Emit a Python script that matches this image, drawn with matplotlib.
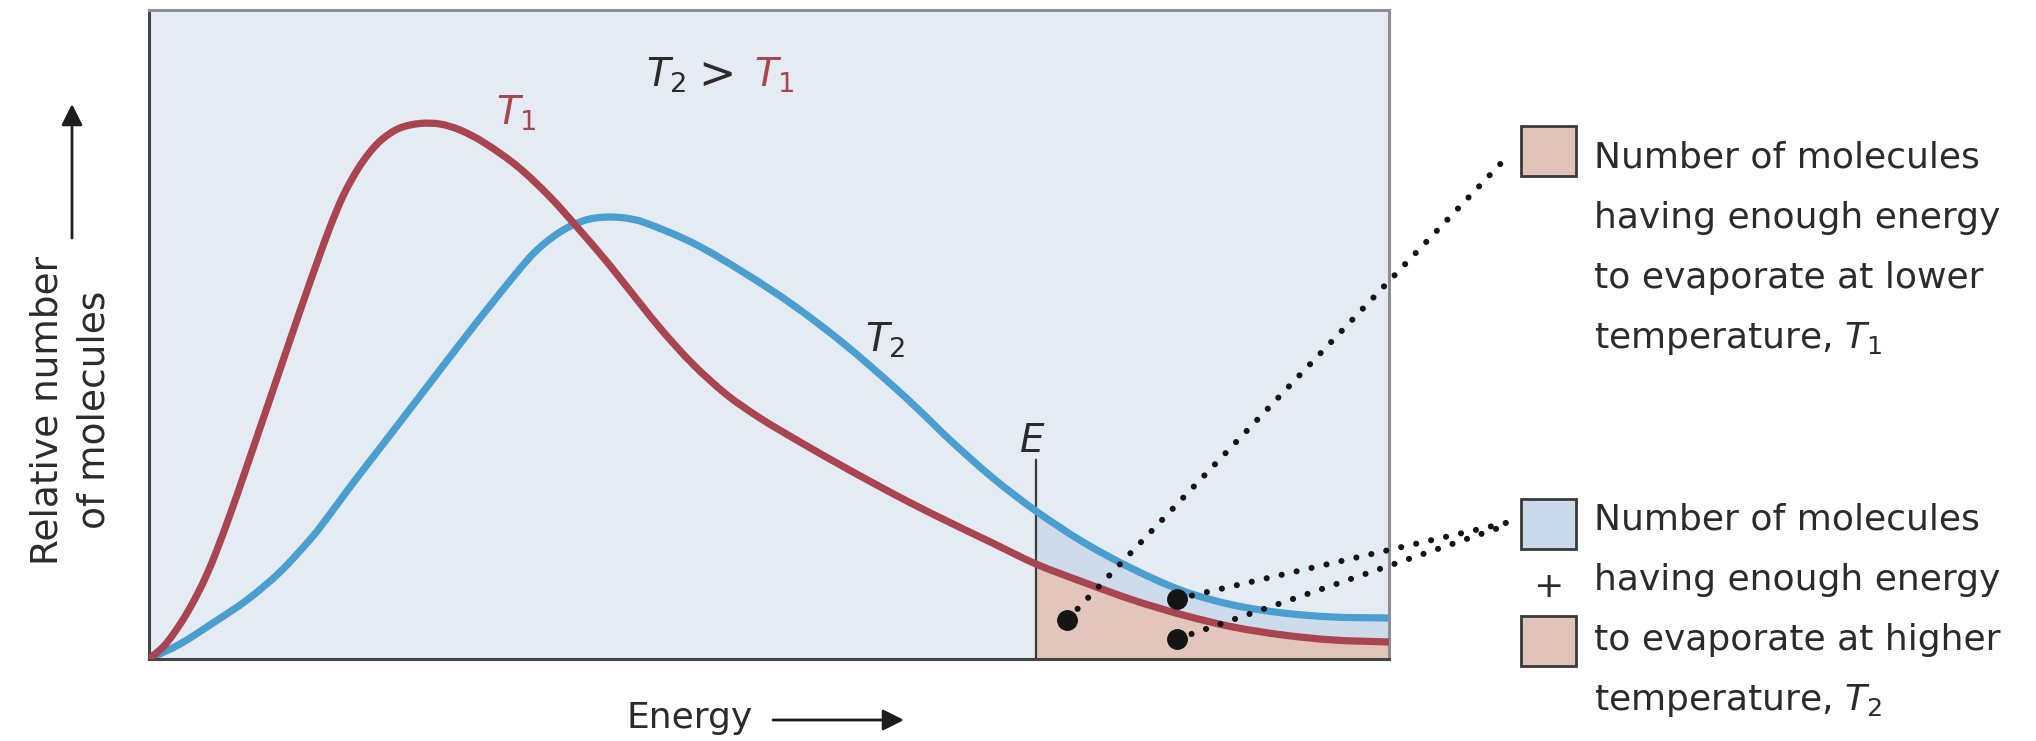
import matplotlib
matplotlib.use("Agg")
import matplotlib.pyplot as plt
import numpy as np
from matplotlib.patches import Rectangle, PathPatch
from matplotlib.path import Path

# Energy distribution at the lower temperature T1 (energy, relative number of molecules)
t1_energy = [0.0, 1.13, 1.94, 2.90, 3.87, 4.68, 5.48, 6.53, 7.58, 8.71, 9.76, 11.13, 12.42,
             13.63, 14.60, 15.65, 16.77, 17.82, 18.87, 20.24, 21.85, 23.47, 25.08, 26.94,
             29.68, 32.34, 34.52, 36.94, 38.55, 41.21, 43.87, 46.61, 49.27, 52.50, 55.73,
             58.55, 61.37, 64.60, 68.06, 71.53, 75.32, 79.35, 83.39, 87.42, 91.45, 95.48,
             100.0]
t1_count = [0.0, 1.85, 3.78, 6.55, 9.88, 13.10, 16.81, 22.22, 27.94, 34.24, 40.09, 47.77,
            54.96, 61.51, 66.56, 71.34, 75.27, 78.12, 80.20, 81.82, 82.51, 82.43, 81.51,
            79.66, 75.96, 71.19, 66.56, 61.17, 57.32, 51.00, 45.41, 40.69, 37.13, 33.44,
            29.92, 26.96, 24.10, 21.02, 17.84, 14.64, 11.86, 9.09, 6.78, 4.93, 3.70, 2.93,
            2.62]

# Energy distribution at the higher temperature T2
t2_energy = [0.0, 2.50, 5.16, 7.90, 10.56, 13.23, 14.60, 16.21, 17.26, 20.00, 22.66, 25.32,
             28.06, 30.73, 31.94, 33.15, 34.35, 35.56, 36.94, 38.39, 39.84, 43.87, 47.90,
             51.94, 55.97, 60.00, 62.18, 64.60, 68.06, 71.53, 75.32, 79.35, 83.39, 87.42,
             91.45, 95.48, 100.0]
t2_count = [0.0, 2.31, 5.55, 9.09, 13.41, 18.95, 22.34, 26.50, 29.12, 35.90, 42.53, 49.15,
            55.78, 61.94, 64.10, 65.79, 67.03, 67.80, 68.10, 67.95, 67.33, 64.10, 59.63,
            54.55, 48.69, 42.06, 38.21, 33.74, 27.89, 22.80, 18.03, 13.87, 10.48, 8.32,
            7.09, 6.47, 6.32]

# Minimum energy needed to evaporate
threshold_energy = 71.53

legend_top = ["Number of molecules", "having enough energy",
              "to evaporate at lower", "temperature, $T_1$"]
legend_bottom = ["Number of molecules", "having enough energy",
                 "to evaporate at higher", "temperature, $T_2$"]

RED = "#a94550"
BLUE = "#4a9fd0"
PINK_FILL = "#e3c6bb"
BLUE_FILL = "#cddbeb"
PANEL = "#e5ebf2"
INK = "#2b2b2b"

plt.rcParams["font.family"] = ["DejaVu Sans"]
plt.rcParams["mathtext.fontset"] = "dejavusans"

W, H = 2036, 741
fig = plt.figure(figsize=(W / 100, H / 100), dpi=100)
fig.patch.set_facecolor("white")

# Plot panel, placed in pixel terms
L, R, T, B = 149, 1389, 10, 659
ax = fig.add_axes([L / W, 1 - B / H, (R - L) / W, (B - T) / H])
ax.set_facecolor(PANEL)
ax.set_xlim(0, 100)
ax.set_ylim(0, 100)
ax.set_xticks([])
ax.set_yticks([])
for side, col in [("left", "#454545"), ("bottom", "#454545"), ("top", "#8a8f94"), ("right", "#8a8f94")]:
    ax.spines[side].set_color(col)
    ax.spines[side].set_linewidth(2.2)

# pixels per data unit, so curve tangents follow the on-screen shape
SX, SY = (R - L) / 100.0, (B - T) / 100.0


def smooth_path(xs, ys):
    """Cubic Bezier path passing through every (x, y) point."""
    p = np.column_stack([np.asarray(xs) * SX, np.asarray(ys) * SY])
    tang = np.zeros_like(p)
    tang[0] = p[1] - p[0]
    tang[-1] = p[-1] - p[-2]
    tang[1:-1] = p[2:] - p[:-2]
    tang /= np.linalg.norm(tang, axis=1, keepdims=True)
    verts = [p[0]]
    for i in range(len(p) - 1):
        d = np.linalg.norm(p[i + 1] - p[i]) / 3.0
        verts += [p[i] + tang[i] * d, p[i + 1] - tang[i + 1] * d, p[i + 1]]
    verts = np.array(verts) / [SX, SY]
    codes = [Path.MOVETO] + [Path.CURVE4] * (len(verts) - 1)
    return verts, codes


def area_beyond(xs, ys, x0):
    """Closed region under the curve from x0 to its right end."""
    verts, codes = smooth_path(xs, ys)
    k = list(xs).index(x0)
    sub = verts[3 * k:]
    v = np.vstack([[x0, 0.0], sub, [xs[-1], 0.0], [x0, 0.0]])
    c = [Path.MOVETO, Path.LINETO] + [Path.CURVE4] * (len(sub) - 1) + [Path.LINETO, Path.CLOSEPOLY]
    return Path(v, c)


ax.add_patch(PathPatch(area_beyond(t2_energy, t2_count, threshold_energy),
                       fc=BLUE_FILL, ec="none", zorder=1))
ax.add_patch(PathPatch(area_beyond(t1_energy, t1_count, threshold_energy),
                       fc=PINK_FILL, ec="none", zorder=1.1))

ax.plot([threshold_energy, threshold_energy], [0, 30.7], color="#3a3a3a", lw=1.6, zorder=1.5)

v2, c2 = smooth_path(t2_energy, t2_count)
ax.add_patch(PathPatch(Path(v2, c2), fill=False, ec=BLUE, lw=5.2,
                       capstyle="butt", joinstyle="round", zorder=2))
v1, c1 = smooth_path(t1_energy, t1_count)
ax.add_patch(PathPatch(Path(v1, c1), fill=False, ec=RED, lw=5.2,
                       capstyle="butt", joinstyle="round", zorder=3))

# Overlay in figure pixels for labels, callouts and key
ov = fig.add_axes([0, 0, 1, 1])
ov.set_xlim(0, W)
ov.set_ylim(H, 0)
ov.axis("off")
ov.patch.set_alpha(0)

FS = 26
TS = 28

# Curve labels
ov.text(496, 125, "$T_1$", color=RED, fontsize=TS, ha="left", va="baseline")
ov.text(865, 352, "$T_2$", color=INK, fontsize=TS, ha="left", va="baseline")
ov.text(1019, 452, "$E$", color=INK, fontsize=TS, ha="left", va="baseline")
ov.text(646, 87, "$T_2$", color=INK, fontsize=TS, ha="left", va="baseline")
ov.text(717, 76, ">", color=INK, fontsize=32, ha="center", va="center")
ov.text(754, 87, "$T_1$", color=RED, fontsize=TS, ha="left", va="baseline")

# Axis titles with arrows
ov.text(71, 410, "Relative number\nof molecules", rotation=90, ha="center", va="center",
        fontsize=27, color=INK, linespacing=1.4, multialignment="center")
ov.annotate("", xy=(72, 104), xytext=(72, 238),
            arrowprops=dict(arrowstyle="-|>", color="#1e1e1e", lw=2, mutation_scale=32,
                            shrinkA=0, shrinkB=0))
ov.text(690, 718, "Energy", ha="center", va="center", fontsize=FS, color=INK)
ov.annotate("", xy=(904, 720), xytext=(773, 720),
            arrowprops=dict(arrowstyle="-|>", color="#1e1e1e", lw=2, mutation_scale=32,
                            shrinkA=0, shrinkB=0))

# Callout dots and dotted leaders
DOT = "#151515"
dotted = dict(color=DOT, lw=4.4, linestyle=(0, (0.01, 2.5)), dash_capstyle="round")
ov.plot([1067, 1506], [620, 158], **dotted)
ov.plot([1177, 1510], [599, 522], **dotted)
ov.plot([1177, 1510], [639, 524], **dotted)
for px, py in [(1067, 620), (1177, 599), (1177, 639)]:
    ov.plot(px, py, "o", ms=14, color=DOT)

# Key boxes
box_kw = dict(ec="#3a3a3a", lw=2)
ov.add_patch(Rectangle((1521, 126), 55, 50, fc="#e0c4b9", **box_kw))
ov.add_patch(Rectangle((1521, 499), 55, 50, fc="#c9d9ea", **box_kw))
ov.add_patch(Rectangle((1521, 616), 55, 50, fc="#e0c4b9", **box_kw))
ov.text(1548, 587, "+", ha="center", va="center", fontsize=FS, color=INK)

for i, line in enumerate(legend_top):
    ov.text(1594, 168 + 60 * i, line, ha="left", va="baseline", fontsize=FS, color=INK)
for i, line in enumerate(legend_bottom):
    ov.text(1594, 530 + 60 * i, line, ha="left", va="baseline", fontsize=FS, color=INK)

fig.savefig("out.png", dpi=100, facecolor="white")
